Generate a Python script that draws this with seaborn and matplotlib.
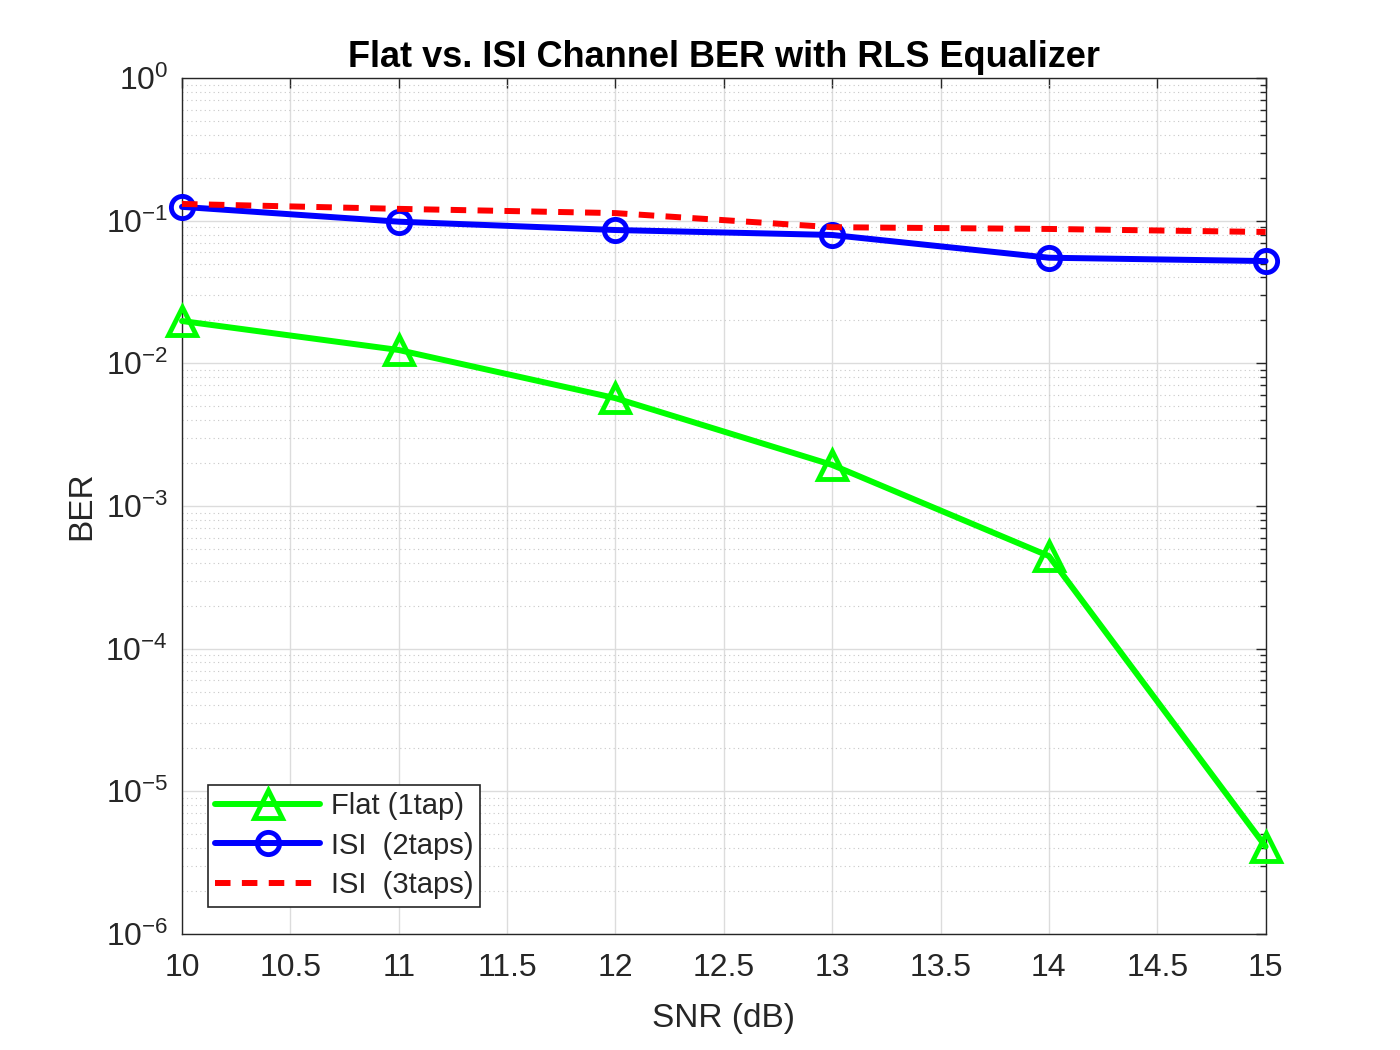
import matplotlib
matplotlib.use("Agg")
import matplotlib.pyplot as plt
import seaborn as sns
import pandas as pd
import numpy as np
from matplotlib.ticker import (FixedLocator, NullFormatter, MultipleLocator,
                               FuncFormatter)

snr = [10, 11, 12, 13, 14, 15]
ber_flat = [0.0198, 0.0124, 0.0057, 0.00194, 0.000446, 0.0000041]
ber_isi2 = [0.125, 0.0984, 0.086, 0.0794, 0.055, 0.0521]
ber_isi3 = [0.131, 0.121, 0.113, 0.090, 0.0875, 0.0833]
labels = ["Flat (1tap)", "ISI  (2taps)", "ISI  (3taps)"]
y_decades = [-6, -5, -4, -3, -2, -1, 0]

df = pd.DataFrame({
    "SNR": snr * 3,
    "BER": ber_flat + ber_isi2 + ber_isi3,
    "series": [labels[0]] * 6 + [labels[1]] * 6 + [labels[2]] * 6,
})

sns.set_style("white")
plt.rcParams['font.family'] = ['Liberation Sans', 'DejaVu Sans']
plt.rcParams['mathtext.fontset'] = 'custom'
plt.rcParams['mathtext.rm'] = 'Liberation Sans'
plt.rcParams['mathtext.it'] = 'Liberation Sans'

fig = plt.figure(figsize=(14, 10.5), dpi=100)
ax = fig.add_axes([0.13, 0.1105, 0.774, 0.8152])

palette = {labels[0]: "#00ff00", labels[1]: "#0000ff", labels[2]: "#ff0000"}
styles = {
    labels[0]: dict(marker="^", ms=20, ls="-"),
    labels[1]: dict(marker="o", ms=16, ls="-"),
    labels[2]: dict(marker=None, ms=0, ls=(0, (2.6, 1.9))),
}
for lab in labels:
    sub = df[df["series"] == lab]
    st = styles[lab]
    kw = {}
    if st["marker"]:
        kw = dict(marker=st["marker"], markersize=st["ms"], markeredgewidth=3.5,
                  markerfacecolor="none", markeredgecolor=palette[lab])
    sns.lineplot(data=sub, x="SNR", y="BER", ax=ax, color=palette[lab],
                 linewidth=4.3, linestyle=st["ls"], label=lab, zorder=3,
                 clip_on=False, **kw)

ax.set_yscale("log")
ax.set_xlim(10, 15)
ax.set_ylim(1e-6, 1)
ax.xaxis.set_major_locator(MultipleLocator(0.5))
ax.xaxis.set_major_formatter(FuncFormatter(lambda v, p: f"{v:g}"))
ax.yaxis.set_major_locator(FixedLocator([10.0 ** d for d in y_decades]))
ax.yaxis.set_major_formatter(FuncFormatter(lambda v, p: r"$10^{%d}$" % int(round(np.log10(v)))))
minor = [m * 10.0 ** d for d in y_decades[:-1] for m in range(2, 10)]
ax.yaxis.set_minor_locator(FixedLocator(minor))
ax.yaxis.set_minor_formatter(NullFormatter())

ax.grid(True, which="major", color="#dcdcdc", linewidth=1.0, linestyle="-")
ax.grid(True, which="minor", axis="y", color="#c8c8c8", linewidth=0.8, linestyle=(0, (1, 3)))
ax.set_axisbelow(True)

for sp in ax.spines.values():
    sp.set_visible(True)
    sp.set_color("#262626")
    sp.set_linewidth(1.0)
ax.tick_params(which="both", direction="in", top=True, right=True, colors="#262626",
               width=1.0)
ax.tick_params(axis="x", which="major", length=7, pad=14, labelsize=23)
ax.tick_params(axis="y", which="major", length=7, pad=10, labelsize=23)
ax.tick_params(which="minor", length=4)

ax.set_xlabel("SNR (dB)", fontsize=24, color="#262626", labelpad=14)
ax.set_ylabel("BER", fontsize=24, color="#262626", labelpad=6)
ax.set_title("Flat vs. ISI Channel BER with RLS Equalizer", fontsize=26,
             fontweight="bold", color="black", pad=8)

leg = ax.legend(loc="lower left", bbox_to_anchor=(0.024, 0.032), fontsize=21,
                frameon=True, fancybox=False, edgecolor="#262626", framealpha=1,
                handlelength=3.6, borderpad=0.25, labelspacing=0.4, handletextpad=0.35,
                borderaxespad=0.0)
leg.get_frame().set_linewidth(1.2)

fig.savefig("out.png", dpi=100, facecolor="white")
